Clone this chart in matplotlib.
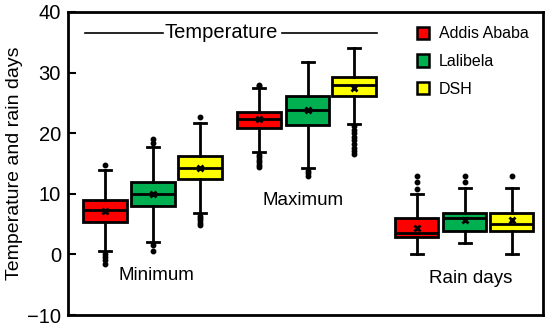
import matplotlib.pyplot as plt
from matplotlib.patches import Patch

plt.rcParams['font.family'] = ['Liberation Sans', 'DejaVu Sans']

sites = ['Addis Ababa', 'Lalibela', 'DSH']
colors = ['#ff0000', '#00b050', '#ffff00']
groups = ['Minimum', 'Maximum', 'Rain days']

# order: Min (AA, La, DSH), Max (AA, La, DSH), Rain (AA, La, DSH)
q1 = [5.4, 8.0, 12.4, 20.8, 21.3, 26.2, 2.9, 3.9, 3.9]
med = [7.3, 10.0, 14.3, 22.4, 23.9, 27.9, 3.6, 6.05, 5.0]
q3 = [9.0, 11.9, 16.2, 23.5, 26.1, 29.3, 6.0, 6.9, 6.9]
means = [7.1, 10.0, 14.3, 22.3, 23.8, 27.5, 4.3, 5.6, 5.7]
whislo = [0.5, 2.1, 6.9, 16.9, 14.2, 21.6, 0.0, 1.9, 0.0]
whishi = [14.0, 17.7, 21.7, 27.4, 31.8, 34.0, 10.0, 10.9, 10.9]
fliers = [
    [14.7, 0.0, -0.5, -1.0, -1.5],
    [18.4, 19.0, 1.6, 0.5],
    [22.7, 6.4, 6.0, 5.6, 5.2, 4.8],
    [27.8, 28.0, 16.4, 16.0, 15.6, 15.2, 14.8, 14.4],
    [13.8, 13.4, 13.0],
    [21.2, 20.6, 20.0, 19.4, 18.8, 18.2, 17.6, 17.0, 16.5],
    [10.8, 11.9, 12.9],
    [11.9, 12.9],
    [13.0],
]

positions = [0.77, 1.77, 2.75, 3.98, 5.0, 5.96, 7.27, 8.27, 9.25]

stats = []
for i in range(len(med)):
    stats.append({'med': med[i], 'q1': q1[i], 'q3': q3[i], 'mean': means[i],
                  'whislo': whislo[i], 'whishi': whishi[i], 'fliers': fliers[i]})

fig = plt.figure(figsize=(5.5, 3.33), dpi=100)
ax = fig.add_axes([0.1236, 0.054, 0.8637, 0.91])

bp = ax.bxp(stats, positions=positions, widths=0.9, patch_artist=True, showmeans=True,
            boxprops=dict(linewidth=2, edgecolor='black'),
            medianprops=dict(color='black', linewidth=2),
            whiskerprops=dict(color='black', linewidth=2),
            capprops=dict(color='black', linewidth=2),
            capwidths=0.24,
            meanprops=dict(marker='x', markeredgecolor='black', markersize=4, markeredgewidth=2),
            flierprops=dict(marker='o', markerfacecolor='black', markeredgecolor='black', markersize=3.2))
for i, box in enumerate(bp['boxes']):
    box.set_facecolor(colors[i % 3])

ax.set_xlim(0, 9.9)
ax.set_ylim(-10, 40)
ax.set_xticks([])
ax.set_yticks([-10, 0, 10, 20, 30, 40])
ax.set_yticklabels(['\u221210', '0', '10', '20', '30', '40'])
ax.tick_params(axis='y', direction='in', length=6, width=1.5, labelsize=14.5, pad=5)
for s in ax.spines.values():
    s.set_linewidth(2)
ax.set_ylabel('Temperature and rain days', fontsize=14, labelpad=3)

# group labels
ax.text(3.2, 36.6, 'Temperature', fontsize=14.5, ha='center', va='center')
ax.plot([0.35, 1.98], [36.6, 36.6], color='black', linewidth=1.2)
ax.plot([4.45, 6.45], [36.6, 36.6], color='black', linewidth=1.2)
ax.text(1.85, -3.5, groups[0], fontsize=13.5, ha='center', va='center')
ax.text(4.9, 8.9, groups[1], fontsize=13.5, ha='center', va='center')
ax.text(8.4, -4.0, groups[2], fontsize=13.5, ha='center', va='center')

handles = [Patch(facecolor=c, edgecolor='black', linewidth=1.8, label=s) for c, s in zip(colors, sites)]
ax.legend(handles=handles, loc='upper right', frameon=False, fontsize=11.5,
          handlelength=0.8, handleheight=0.8, handletextpad=0.6, labelspacing=0.8,
          bbox_to_anchor=(1.0, 1.0))

fig.savefig('out.png', dpi=100)
